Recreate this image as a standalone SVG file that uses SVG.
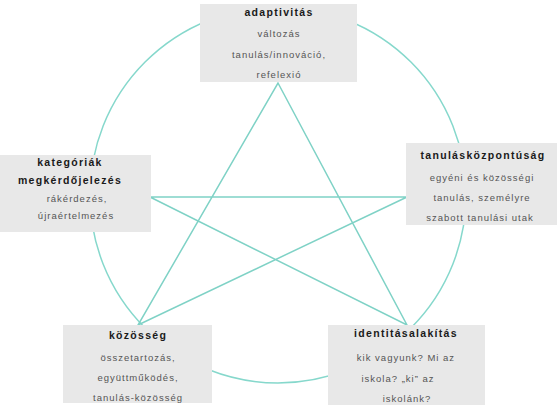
<svg xmlns="http://www.w3.org/2000/svg" width="557" height="414" viewBox="0 0 557 414">
<style>
.bg{fill:#ffffff}
.ring{fill:none;stroke:#86d8cc;stroke-width:1.5}
.star{fill:none;stroke:#7fd2c6;stroke-width:1.5;stroke-linejoin:miter}
.box{fill:#e8e8e8}
.t{font-family:"Liberation Sans",Arial,sans-serif;font-size:10.5px;font-weight:bold;fill:#1a1a1a;text-anchor:middle;letter-spacing:1.3px}
.b{font-family:"Liberation Sans",Arial,sans-serif;font-size:9.5px;fill:#555555;text-anchor:middle;letter-spacing:1px}
</style>
<rect class="bg" x="0" y="0" width="557" height="414"/>
<g id="connectors">
<circle class="ring" cx="278" cy="195" r="188"/>
<polygon class="star" points="278,83 407,325 150,197 407,197 138,325"/>
</g>
<g id="adaptivitas">
<rect class="box" x="200" y="4" width="157" height="78"/>
<text class="t" x="279" y="16">adaptivitás</text>
<text class="b" x="279" y="37">változás</text>
<text class="b" x="279" y="58">tanulás/innováció,</text>
<text class="b" x="279" y="78">refelexió</text>
</g>
<g id="kategoriak">
<rect class="box" x="0" y="155" width="151" height="77"/>
<text class="t" x="70" y="166">kategóriák</text>
<text class="t" x="70" y="184">megkérdőjelezés</text>
<text class="b" x="77" y="202">rákérdezés,</text>
<text class="b" x="76" y="219">újraértelmezés</text>
</g>
<g id="tanulaskozpontusag">
<rect class="box" x="406" y="143" width="151" height="82"/>
<text class="t" x="483" y="159">tanulásközpontúság</text>
<text class="b" x="482" y="181">egyéni és közösségi</text>
<text class="b" x="482" y="201">tanulás, személyre</text>
<text class="b" x="480" y="221">szabott tanulási utak</text>
</g>
<g id="kozosseg">
<rect class="box" x="63" y="325" width="149" height="78"/>
<text class="t" x="138" y="339">közösség</text>
<text class="b" x="138" y="361">összetartozás,</text>
<text class="b" x="138" y="381">együttműködés,</text>
<text class="b" x="138" y="401">tanulás-közösség</text>
</g>
<g id="identitasalakitas">
<rect class="box" x="328" y="325" width="157" height="80"/>
<text class="t" x="406" y="337">identitásalakítás</text>
<text class="b" x="406" y="361">kik vagyunk? Mi az</text>
<text class="b" x="398" y="382">iskola? „ki” az</text>
<text class="b" x="407" y="402">iskolánk?</text>
</g>
</svg>
